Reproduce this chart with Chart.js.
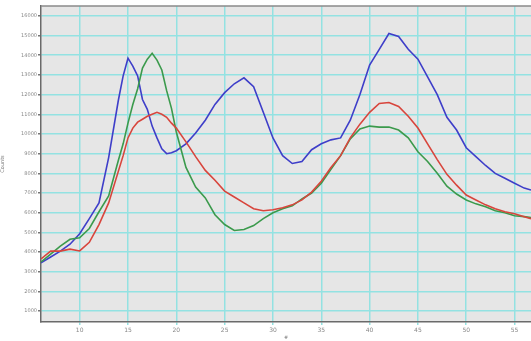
<!DOCTYPE html>
<html>
<head>
<meta charset="utf-8">
<script src="https://cdn.jsdelivr.net/npm/chart.js@4/dist/chart.umd.min.js"></script>
<style>
html,body{margin:0;padding:0;background:#fff;overflow:hidden;}
#wrap{width:531px;height:341px;position:relative;}
</style>
</head>
<body>
<div id="wrap"><canvas id="c" width="531" height="341"></canvas></div>
<script>
const xValues = [6,7,8,9,10,11,12,13,14,14.5,15,15.5,16,16.5,17,17.5,18,18.5,19,19.5,20,21,22,23,24,25,26,27,28,29,30,31,32,33,34,35,36,37,38,39,40,41,42,43,44,45,46,47,48,49,50,51,52,53,54,55,56,56.7];
const blueSeries = [3450,3750,4050,4400,4930,5700,6500,8800,11700,12950,13850,13450,12950,11750,11250,10400,9800,9250,9000,9050,9150,9500,10050,10700,11500,12100,12550,12850,12400,11100,9800,8900,8500,8600,9200,9500,9700,9800,10700,12000,13500,14300,15100,14950,14300,13800,12900,12000,10850,10200,9300,8850,8400,8000,7750,7500,7250,7150];
const greenSeries = [3500,3900,4300,4650,4730,5200,6050,6850,8650,9500,10550,11500,12300,13350,13800,14100,13750,13250,12200,11300,10100,8300,7300,6750,5900,5400,5100,5150,5350,5700,6000,6200,6350,6700,7000,7500,8200,8900,9750,10250,10400,10350,10350,10200,9800,9100,8600,8000,7350,6950,6650,6450,6300,6100,6000,5850,5800,5750];
const redSeries = [3650,4050,4050,4150,4060,4500,5400,6500,8100,8900,9800,10300,10600,10750,10900,11000,11100,11000,10850,10550,10300,9600,8850,8150,7650,7100,6800,6500,6200,6100,6150,6250,6400,6650,7050,7600,8300,8900,9800,10500,11100,11550,11600,11400,10900,10300,9500,8700,7950,7400,6900,6650,6400,6200,6050,5950,5800,5700];
const xTicks = [10,15,20,25,30,35,40,45,50,55];
const yTicks = [1000,2000,3000,4000,5000,6000,7000,8000,9000,10000,11000,12000,13000,14000,15000,16000];

const pts = arr => arr.map((v,i)=>({x:xValues[i], y:v}));

const plotBg = {
  id:'plotBg',
  beforeDraw(chart){
    const {ctx, chartArea:a} = chart;
    ctx.save();
    ctx.fillStyle = '#e6e6e6';
    ctx.fillRect(a.left, a.top, a.right-a.left, a.bottom-a.top);
    ctx.restore();
  },
  afterDatasetsDraw(chart){
    const {ctx, chartArea:a} = chart;
    ctx.save();
    ctx.strokeStyle = '#8a8a8a';
    ctx.lineWidth = 1.5;
    ctx.beginPath();
    ctx.moveTo(a.left, a.top); ctx.lineTo(a.right, a.top);
    ctx.stroke();
    ctx.restore();
  }
};

const ds = (label, data, color) => ({
  label, data: pts(data), borderColor: color, borderWidth: 1.6,
  pointRadius: 0, tension: 0, fill: false
});

new Chart(document.getElementById('c'), {
  type: 'line',
  data: {
    datasets: [
      ds('Red', redSeries, '#d8453c'),
      ds('Green', greenSeries, '#3b9a4c'),
      ds('Blue', blueSeries, '#3e3ec9')
    ]
  },
  options: {
    responsive: false,
    animation: false,
    layout: { padding: { top: 6, right: 0, left: 0, bottom: 0 } },
    plugins: { legend: { display: false }, tooltip: { enabled: false } },
    scales: {
      x: {
        type: 'linear', min: 6, max: 56.7,
        afterBuildTicks: s => { s.ticks = xTicks.map(v => ({value: v})); },
        afterFit: s => { s.height = 19; },
        grid: { color: '#93e2e2', lineWidth: 1.5, tickLength: 3, tickColor: '#93e2e2' },
        border: { color: '#6a6a6a', width: 1.5 },
        ticks: { font: { size: 6, family: 'DejaVu Sans' }, color: '#888', padding: 2, maxRotation: 0 },
        title: { display: true, text: '#', font: { size: 5, family: 'DejaVu Sans' }, color: '#777', padding: 0 }
      },
      y: {
        min: 450, max: 16500,
        afterBuildTicks: s => { s.ticks = yTicks.map(v => ({value: v})); },
        afterFit: s => { s.width = 41; },
        grid: { color: '#93e2e2', lineWidth: 1.5, tickLength: 3, tickColor: '#777' },
        border: { color: '#6a6a6a', width: 1.5 },
        ticks: { font: { size: 5, family: 'DejaVu Sans' }, color: '#888', padding: 1, callback: v => String(v) },
        title: { display: true, text: 'Counts', font: { size: 5, family: 'DejaVu Sans' }, color: '#777', padding: 0 }
      }
    }
  },
  plugins: [plotBg]
});
</script>
</body>
</html>
